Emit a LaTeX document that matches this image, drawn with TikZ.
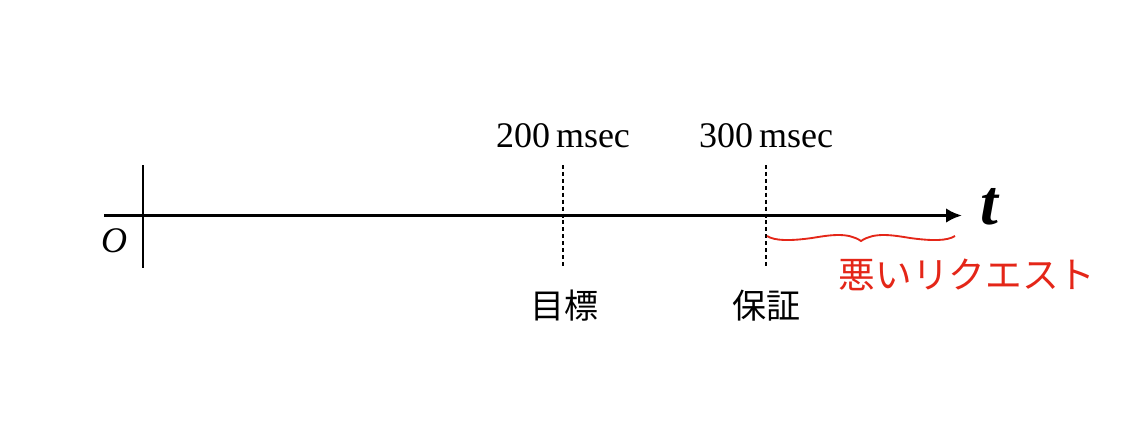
\documentclass[tikz,border=0pt]{standalone}
\usepackage{fontspec}
\setmainfont{Liberation Serif}
\newfontfamily\jpfont{Noto Sans CJK JP}
\usepackage{tikz}
\usetikzlibrary{arrows.meta}

\begin{document}
\begin{tikzpicture}[x=0.75pt,y=0.75pt,yscale=-1,xscale=1]
\useasboundingbox (0,0) rectangle (1144,436);
\coordinate (axL) at (104,215.5);
\coordinate (axR) at (962,215.5);
\coordinate (vT) at (143,165);
\coordinate (vB) at (143,268);
\coordinate (aT) at (563,165);
\coordinate (aB) at (563,268);
\coordinate (bT) at (766,165);
\coordinate (bB) at (766,268);
\coordinate (brL) at (767,236);
\coordinate (brM) at (861,241);
\coordinate (brR) at (955,236);
\draw [line width=1.2]    (vT) -- (vB) ;
\draw [line width=2.6, -{Latex[length=12pt,width=11pt]}]    (axL) -- (axR) ;
\draw [line width=1, dash pattern=on 3pt off 2.2pt]    (aT) -- (aB) ;
\draw [line width=1, dash pattern=on 3pt off 2.2pt]    (bT) -- (bB) ;
\draw [color={rgb, 255:red, 228; green, 38; blue, 24 }, line width=1.4]    (brL) .. controls (775,241) and (790,241) .. (812,238) .. controls (830,235) and (848,232) .. (brM) .. controls (874,232) and (892,235) .. (910,238) .. controls (932,241) and (947,241) .. (brR) ;
\node (lblO) at (114,241) [inner sep=0.75pt] {\fontsize{27}{30}\selectfont\textit{O}};
\node (lblT) at (990,207) [inner sep=0.75pt] {\fontsize{48}{50}\selectfont\textbf{\textit{t}}};
\node (lbl200) at (563,136) [inner sep=0.75pt] {\fontsize{27}{30}\selectfont 200\,msec};
\node (lbl300) at (766,136) [inner sep=0.75pt] {\fontsize{27}{30}\selectfont 300\,msec};
\node (lblGoal) at (564,306) [inner sep=0.75pt] {\fontsize{25.5}{30}\selectfont\jpfont 目標};
\node (lblGuar) at (766,306) [inner sep=0.75pt] {\fontsize{25.5}{30}\selectfont\jpfont 保証};
\node (lblBad) at (967,275) [inner sep=0.75pt, color={rgb, 255:red, 228; green, 38; blue, 24 }] {\fontsize{27.5}{30}\selectfont\jpfont 悪いリクエスト};
\end{tikzpicture}
\end{document}
